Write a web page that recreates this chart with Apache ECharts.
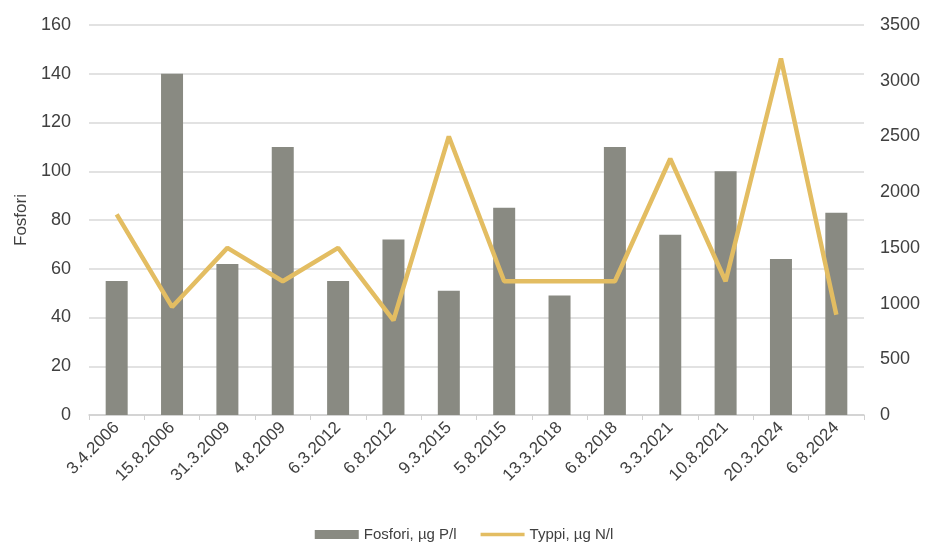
<!DOCTYPE html>
<html>
<head>
<meta charset="utf-8">
<script src="https://cdn.jsdelivr.net/npm/echarts@6/dist/echarts.min.js"></script>
<style>
  html, body { margin: 0; padding: 0; background: #fff; }
  #chart { width: 928px; height: 546px; }
</style>
</head>
<body>
<div id="chart"></div>
<script>
// sample dates
const dates = ["3.4.2006", "15.8.2006", "31.3.2009", "4.8.2009", "6.3.2012", "6.8.2012",
  "9.3.2015", "5.8.2015", "13.3.2018", "6.8.2018", "3.3.2021", "10.8.2021", "20.3.2024", "6.8.2024"];
// phosphorus, left axis
const fosfori = [55, 140, 62, 110, 55, 72, 51, 85, 49, 110, 74, 100, 64, 83];
// nitrogen, right axis
const typpi = [1800, 970, 1500, 1200, 1500, 850, 2500, 1200, 1200, 1200, 2300, 1200, 3200, 900];

const font = "Liberation Sans";
const chart = echarts.init(document.getElementById("chart"));

chart.setOption({
  animation: false,
  textStyle: { fontFamily: font },
  grid: { left: 89, right: 64, top: 25, bottom: 131 },
  legend: {
    bottom: -1,
    left: "center",
    itemWidth: 44,
    itemHeight: 9,
    itemGap: 24,
    textStyle: { fontSize: 15, color: "#404040", fontFamily: font },
    data: [
      { name: "Fosfori, µg P/l", icon: "rect" },
      // thin bar inside a full-size box so the line icon is thinner
      { name: "Typpi, µg N/l", icon: "path://M0,0 L0,0 M44,9 L44,9 M0,2.8 L44,2.8 L44,6.2 L0,6.2 Z" }
    ]
  },
  xAxis: {
    type: "category",
    data: dates,
    axisLine: { lineStyle: { color: "#d0d0d0", width: 1.5 } },
    axisTick: { show: true, length: 5, lineStyle: { color: "#d0d0d0" } },
    axisLabel: { rotate: 45, fontSize: 17, color: "#404040", margin: 10 }
  },
  yAxis: [
    {
      type: "value",
      min: 0,
      max: 160,
      interval: 20,
      name: "Fosfori",
      nameLocation: "middle",
      nameGap: 55,
      nameRotate: 90,
      nameTextStyle: { fontSize: 17, color: "#404040" },
      axisLabel: { fontSize: 18, color: "#404040", margin: 18 },
      splitLine: { lineStyle: { color: "#d9d9d9", width: 1.5 } }
    },
    {
      type: "value",
      min: 0,
      max: 3500,
      interval: 500,
      axisLabel: { fontSize: 18, color: "#404040", margin: 16, formatter: (v) => String(v) },
      splitLine: { show: false }
    }
  ],
  series: [
    {
      name: "Fosfori, µg P/l",
      type: "bar",
      data: fosfori,
      barWidth: 22,
      itemStyle: { color: "#898a82" }
    },
    {
      name: "Typpi, µg N/l",
      type: "line",
      yAxisIndex: 1,
      data: typpi,
      symbol: "none",
      lineStyle: { color: "#e3bd62", width: 4.5 },
      itemStyle: { color: "#e3bd62" }
    }
  ]
});
</script>
</body>
</html>
